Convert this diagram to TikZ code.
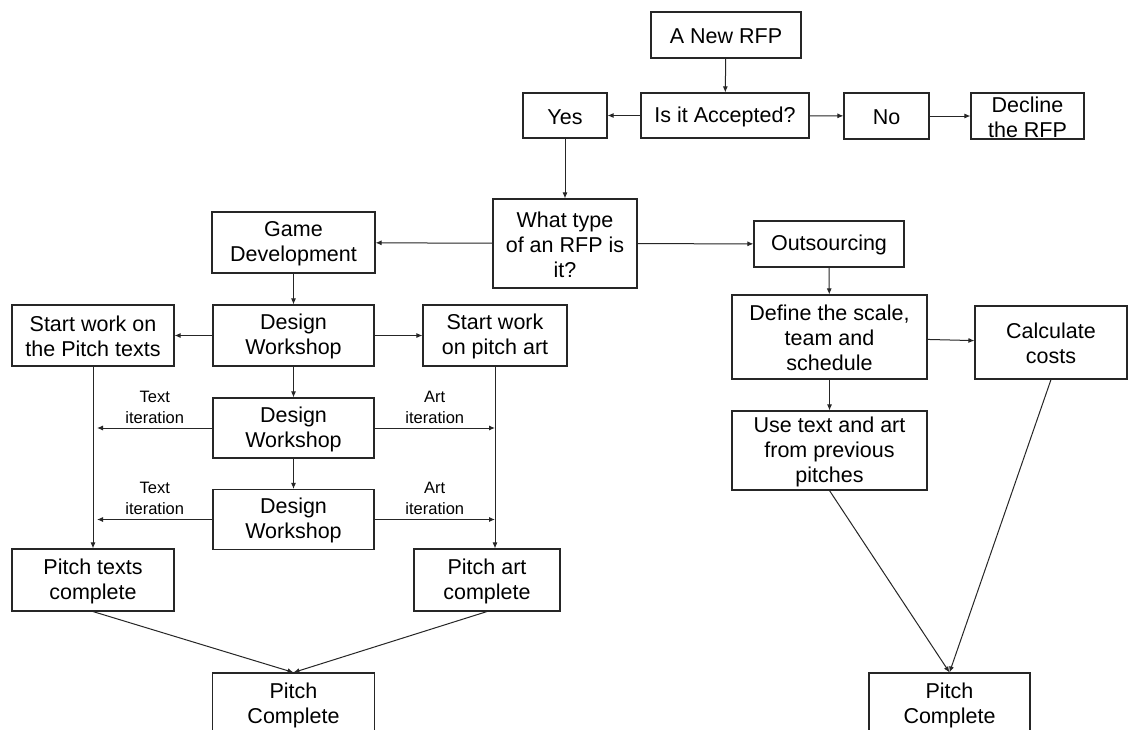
\documentclass[tikz,border=0pt]{standalone}
\usepackage{fontspec}
\setmainfont{Liberation Sans}
\usetikzlibrary{arrows.meta}
% struts that centre a text block on the box
\newcommand\topst{\rule{0pt}{0.85em}}
\newcommand\botst{\rule[-0.03em]{0pt}{0.03em}}
\begin{document}
\begin{tikzpicture}[x=1pt,y=-1pt,
  box/.style={draw=black!85, line width=1.1pt, fill=white, inner sep=0pt, align=center,
    font=\fontsize{21.5}{25}\selectfont},
  conn/.style={draw=black!85, line width=1pt, -{Latex[length=6pt,width=5pt]}},
  lbl/.style={align=center, inner sep=0pt, font=\fontsize{16.5}{21}\selectfont}]
\useasboundingbox (0,0) rectangle (1128,729);
\fill[white] (0,0) rectangle (1128,729);

% decision head
\node[box, minimum width=150pt, minimum height=46pt] (rfp)  at (726,35)     {\topst A New RFP\botst};
\node[box, minimum width=168pt, minimum height=45pt] (acc)  at (725,115.5)  {\topst Is it Accepted?\botst};
\node[box, minimum width=84pt,  minimum height=45pt] (yes)  at (565,115.5)  {\topst Yes\botst};
\node[box, minimum width=85pt,  minimum height=46pt] (no)   at (886.5,116)  {\topst No\botst};
\node[box, minimum width=113pt, minimum height=46pt] (decl) at (1027.5,116) {\topst Decline\\the RFP\botst};
\node[box, minimum width=144pt, minimum height=89pt] (type) at (565,243.5)  {\topst What type\\of an RFP is\\it?\botst};

% game development branch
\node[box, minimum width=163pt, minimum height=61pt] (gd)  at (293.5,242.5) {\topst Game\\Development\botst};
\node[box, minimum width=161pt, minimum height=61pt] (dw1) at (293.5,335.5) {\topst Design\\Workshop\botst};
\node[box, minimum width=162pt, minimum height=61pt] (st)  at (93,335.5)    {\topst Start work on\\the Pitch texts\botst};
\node[box, minimum width=144pt, minimum height=61pt] (sa)  at (495,335.5)   {\topst Start work\\on pitch art\botst};
\node[box, minimum width=161pt, minimum height=60pt] (dw2) at (293.5,428)   {\topst Design\\Workshop\botst};
\node[box, minimum width=161pt, minimum height=60pt] (dw3) at (293.5,519.5) {\topst Design\\Workshop\botst};
\node[box, minimum width=162pt, minimum height=62pt] (ptc) at (93,580)      {\topst Pitch texts\\complete\botst};
\node[box, minimum width=146pt, minimum height=62pt] (pac) at (487,580)     {\topst Pitch art\\complete\botst};
\node[box, minimum width=162pt, minimum height=62pt] (pcl) at (293.5,704)   {\topst Pitch\\Complete\botst};

% outsourcing branch
\node[box, minimum width=150pt, minimum height=46pt] (out)  at (829,244)    {\topst Outsourcing\botst};
\node[box, minimum width=195pt, minimum height=84pt] (def)  at (829.5,337)  {\topst Define the scale,\\team and\\schedule\botst};
\node[box, minimum width=152pt, minimum height=73pt] (calc) at (1051,342.5) {\topst Calculate\\costs\botst};
\node[box, minimum width=195pt, minimum height=79pt] (use)  at (829.5,450.5){\topst Use text and art\\from previous\\pitches\botst};
\node[box, minimum width=161pt, minimum height=62pt] (pcr)  at (949.5,704)  {\topst Pitch\\Complete\botst};

% connectors: head
\draw[conn] (rfp) -- (acc);
\draw[conn] (acc) -- (yes);
\draw[conn] (acc) -- (no);
\draw[conn] (no) -- (decl);
\draw[conn] (yes) -- (type);
\draw[conn] (type) -- (gd);
\draw[conn] (type) -- (out);

% connectors: game development
\draw[conn] (gd) -- (dw1);
\draw[conn] (dw1) -- (st);
\draw[conn] (dw1) -- (sa);
\draw[conn] (dw1) -- (dw2);
\draw[conn] (dw2) -- (dw3);
\coordinate (tl) at (st.south);
\coordinate (al) at (sa.south);
\draw[conn] (tl) -- (tl |- ptc.north);
\draw[conn] (al) -- (al |- pac.north);
\draw[conn] (dw2.west) -- ([xshift=4pt]tl |- dw2.west)
  node[lbl, midway, above=4pt] {Text\\iteration};
\draw[conn] (dw2.east) -- (al |- dw2.east)
  node[lbl, midway, above=4pt] {Art\\iteration};
\draw[conn] (dw3.west) -- ([xshift=4pt]tl |- dw3.west)
  node[lbl, midway, above=4pt] {Text\\iteration};
\draw[conn] (dw3.east) -- (al |- dw3.east)
  node[lbl, midway, above=4pt] {Art\\iteration};
\draw[conn] (ptc.south) -- (pcl.north);
\draw[conn] (pac.south) -- (pcl.north);

% connectors: outsourcing
\draw[conn] (out) -- (def);
\draw[conn] (def) -- (calc);
\draw[conn] (def) -- (use);
\draw[conn] (use.south) -- (pcr.north);
\draw[conn] (calc.south) -- (pcr.north);
\end{tikzpicture}
\end{document}
